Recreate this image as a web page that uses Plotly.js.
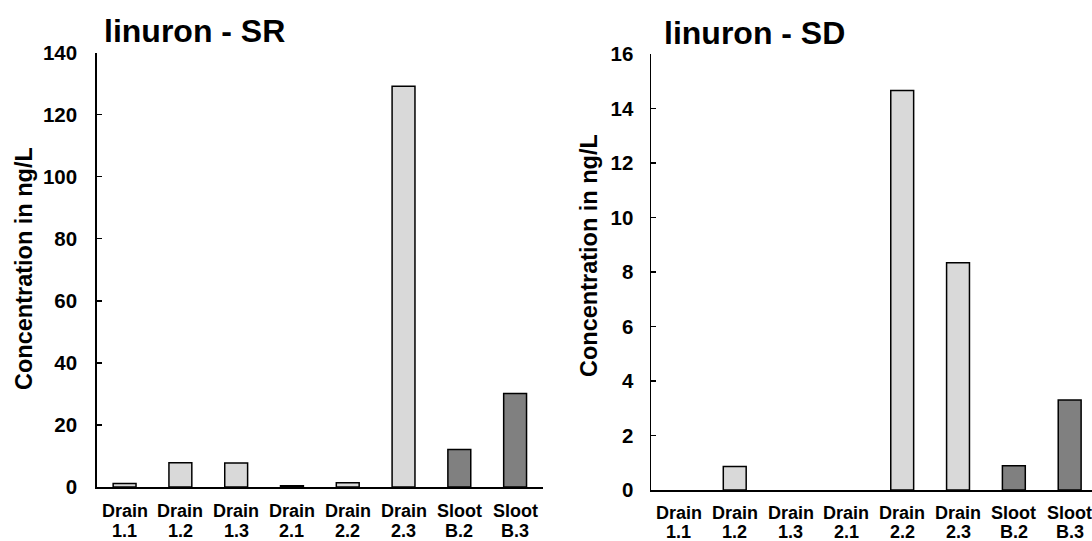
<!DOCTYPE html>
<html>
<head>
<meta charset="utf-8">
<script src="https://cdn.plot.ly/plotly-3.0.1.min.js"></script>
<style>html,body{margin:0;padding:0;background:#fff;}#chart{width:1092px;height:541px;}</style>
</head>
<body>
<div id="chart"></div>
<script>
const categories = ["Drain 1.1","Drain 1.2","Drain 1.3","Drain 2.1","Drain 2.2","Drain 2.3","Sloot B.2","Sloot B.3"];
const labelTop = ["Drain","Drain","Drain","Drain","Drain","Drain","Sloot","Sloot"];
const labelBottom = ["1.1","1.2","1.3","2.1","2.2","2.3","B.2","B.3"];
const srValues = [1.1, 7.8, 7.7, 0.4, 1.4, 129.1, 12.1, 30.1];
const sdValues = [null, 0.86, null, null, 14.66, 8.34, 0.89, 3.3];
const barColors = ["#d9d9d9","#d9d9d9","#d9d9d9","#d9d9d9","#d9d9d9","#d9d9d9","#808080","#808080"];
const srTicks = [0,20,40,60,80,100,120,140];
const sdTicks = [0,2,4,6,8,10,12,14,16];
const titles = ["linuron - SR", "linuron - SD"];
const yTitle = "Concentration in ng/L";

const FONT = "Liberation Sans, Arial, Helvetica, sans-serif";
const W = 1092, H = 541;
const px = v => v / W;
const py = v => (H - v) / H;

const traces = [
  {type:"bar", x:categories, y:srValues, xaxis:"x", yaxis:"y",
   marker:{color:barColors, line:{color:"#000", width:1.5}}, hoverinfo:"y"},
  {type:"bar", x:categories, y:sdValues, xaxis:"x2", yaxis:"y2",
   marker:{color:barColors, line:{color:"#000", width:1.5}}, hoverinfo:"y"}
];

const xCommon = {type:"category", showline:true, linecolor:"#000", linewidth:1.5,
  ticks:"", showgrid:false, zeroline:false, showticklabels:false, fixedrange:true};
const yCommon = {showline:true, linecolor:"#000", linewidth:1.5, ticks:"inside", ticklen:5, tickwidth:1.5,
  tickcolor:"#000", showgrid:false, zeroline:false, tickfont:{family:FONT, size:20.5, weight:"bold", color:"#000"}, fixedrange:true};

const annotations = [
  {text:titles[0], xref:"paper", yref:"paper", x:px(102), y:py(31), xanchor:"left", yanchor:"middle",
   showarrow:false, font:{family:FONT, size:32, weight:"bold", color:"#000"}},
  {text:titles[1], xref:"paper", yref:"paper", x:px(662), y:py(33), xanchor:"left", yanchor:"middle",
   showarrow:false, font:{family:FONT, size:32, weight:"bold", color:"#000"}},
  {text:yTitle, xref:"paper", yref:"paper", x:px(24), y:py(269), xanchor:"center", yanchor:"middle",
   textangle:-90, showarrow:false, font:{family:FONT, size:23.5, weight:"bold", color:"#000"}},
  {text:yTitle, xref:"paper", yref:"paper", x:px(589), y:py(256), xanchor:"center", yanchor:"middle",
   textangle:-90, showarrow:false, font:{family:FONT, size:23.5, weight:"bold", color:"#000"}}
];
const labelFont = {family:FONT, size:18, weight:"bold", color:"#000"};
[["x", 510.7, 530.5], ["x2", 512.5, 532]].forEach(([ax, y1, y2]) => {
  categories.forEach((c, i) => {
    annotations.push({text:labelTop[i], xref:ax, yref:"paper", x:c, y:py(y1), xanchor:"center", yanchor:"middle", showarrow:false, font:labelFont});
    annotations.push({text:labelBottom[i], xref:ax, yref:"paper", x:c, y:py(y2), xanchor:"center", yanchor:"middle", showarrow:false, font:labelFont});
  });
});

const layout = {
  width:W, height:H, margin:{l:0,r:0,t:0,b:0}, paper_bgcolor:"#fff", plot_bgcolor:"#fff",
  showlegend:false, bargap:0.59,
  xaxis:Object.assign({}, xCommon, {domain:[px(96.7), px(543)], range:[-0.5,7.5], anchor:"y"}),
  yaxis:Object.assign({}, yCommon, {domain:[py(487), py(52.5)], range:[0,140], tickvals:srTicks, anchor:"x", ticklabelstandoff:14}),
  xaxis2:Object.assign({}, xCommon, {domain:[px(651), 1], range:[-0.5,7.4], anchor:"y2"}),
  yaxis2:Object.assign({}, yCommon, {domain:[py(490), py(54)], range:[0,16], tickvals:sdTicks, anchor:"x2", ticklabelstandoff:12}),
  annotations:annotations
};

Plotly.newPlot("chart", traces, layout, {displayModeBar:false, staticPlot:true});
</script>
</body>
</html>
